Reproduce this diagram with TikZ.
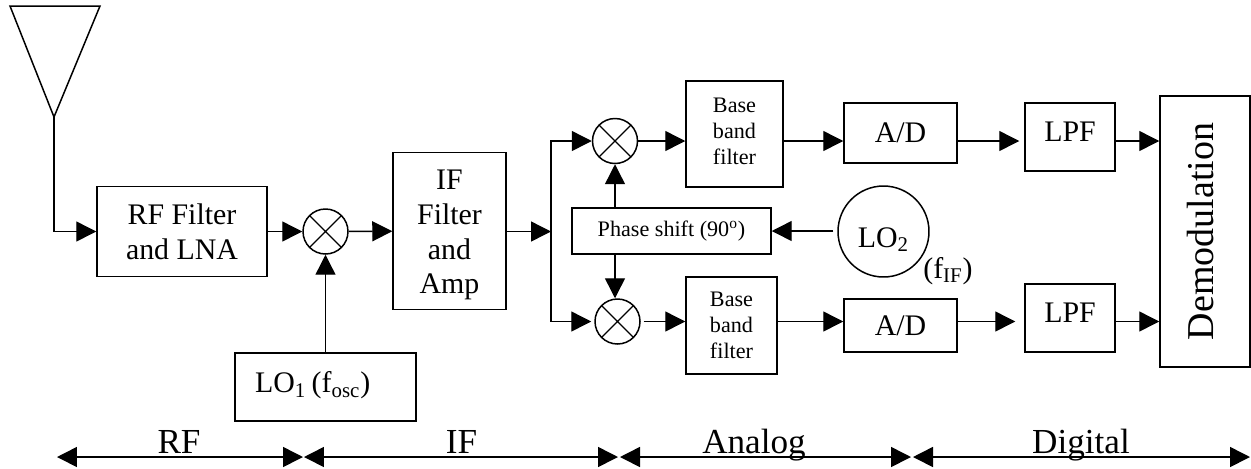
\documentclass[tikz,border=0pt]{standalone}
\usepackage{fontspec}
\setmainfont{Liberation Serif}
\usetikzlibrary{arrows.meta,calc}
\tikzset{
  box/.style={draw,line width=0.85pt,align=center,inner sep=0pt,font=\fontsize{17}{19.9}\selectfont},
  small/.style={font=\fontsize{12.6}{14.8}\selectfont},
  mixer/.style={draw,circle,line width=0.85pt,minimum size=0.9cm,inner sep=0pt,
    path picture={\draw[line width=0.75pt] (path picture bounding box.north west)--(path picture bounding box.south east)
      (path picture bounding box.north east)--(path picture bounding box.south west);}},
  arr/.style={-{Triangle[length=0.4cm,width=0.4cm]},line width=0.8pt},
  span/.style={{Triangle[length=0.4cm,width=0.4cm]}-{Triangle[length=0.4cm,width=0.4cm]},line width=0.9pt},
  lbl/.style={anchor=base,inner sep=0pt,font=\fontsize{20}{24}\selectfont},
}

\begin{document}
\begin{tikzpicture}[x=0.02cm,y=-0.02cm,line join=miter]
\useasboundingbox (0,0) rectangle (1251,468);
\coordinate (antl) at (10,6); \coordinate (antr) at (100,6); \coordinate (ant) at (54,117);
\coordinate (split) at (551,231.5);
\draw[line width=0.85pt] (antl)--(antr)--(ant)--cycle;
% blocks
\node[box,minimum width=3.4cm,minimum height=1.8cm] (rf) at (182,231.5) {RF Filter\\and LNA};
\node[mixer] (mixrf) at (325.5,231.5) {};
\node[box,text height=2.64cm,text depth=0.12cm,minimum width=2.26cm,minimum height=3.14cm] (ifamp) at (449.5,231) {IF\\Filter\\and\\Amp};
\node[box,text depth=0.2cm,minimum width=3.62cm,minimum height=1.36cm,text width=2.82cm,align=left] (loa) at (325.5,387) {LO\textsubscript{1}\kern-2.5pt{} (f\textsubscript{osc})};
\node[mixer] (mixa) at (615,141) {};
\node[mixer] (mixb) at (617.5,321.5) {};
\node[box,small,minimum width=3.98cm,minimum height=0.92cm] (phase) at (671.5,231) {Phase shift (90\textsuperscript{o})};
\node[box,circle,text height=0.62cm,text depth=0pt,minimum size=1.82cm] (lob) at (883.5,231.5) {LO\textsubscript{2}};
\node[lbl,font=\fontsize{17}{19.9}\selectfont] (fif) at (948,278) {(f\textsubscript{IF})};
\node[box,small,text depth=0.12cm,minimum width=1.94cm,minimum height=2.12cm] (bba) at (734.5,134) {Base\\band\\filter};
\node[box,small,minimum width=1.82cm,minimum height=1.94cm] (bbb) at (731.5,325.5) {Base\\band\\filter};
\node[box,minimum width=2.26cm,minimum height=1.2cm] (ada) at (900.5,133) {A/D};
\node[box,minimum width=2.26cm,minimum height=1.06cm] (adb) at (900.5,325.5) {A/D};
\node[box,text depth=0.2cm,minimum width=1.8cm,minimum height=1.36cm] (lpfa) at (1070,137) {LPF};
\node[box,text depth=0.2cm,minimum width=1.8cm,minimum height=1.36cm] (lpfb) at (1070,318) {LPF};
\node[box,rotate=90,text depth=0.2cm,font=\fontsize{21.6}{24}\selectfont,minimum width=5.42cm,minimum height=1.8cm] (demod) at (1205,231.5) {Demodulation};
% connectors
\draw[arr] (ant) |- (rf);
\draw[arr] (rf) -- (mixrf);
\draw[arr] (loa) -- (mixrf);
\draw[arr] (mixrf) -- (ifamp);
\draw[arr] (ifamp.east |- split) -- (split);
\draw[arr] (split) |- (mixa);
\draw[arr,shorten >=0.06cm] (split) |- (mixb);
\draw[arr] (mixa) -- (mixa -| bba.west);
\draw[arr] (bba.east |- mixa) -- (mixa -| ada.west);
\draw[arr,shorten >=0.1cm] (ada.east |- mixa) -- (mixa -| lpfa.west);
\draw[arr] (lpfa.east |- mixa) -- (mixa -| demod.north);
\draw[arr,shorten <=0.06cm] (mixb) -- (mixb -| bbb.west);
\draw[arr] (bbb.east |- mixb) -- (mixb -| adb.west);
\draw[arr,shorten >=0.18cm] (adb.east |- mixb) -- (mixb -| lpfb.west);
\draw[arr] (lpfb.east |- mixb) -- (mixb -| demod.north);
\draw[arr] (mixa |- phase.north) -- (mixa);
\draw[arr] (mixa |- phase.south) -- (mixa |- mixb.north);
\draw[arr,shorten <=0.08cm] (lob.west |- phase) -- (phase);
% bands along the bottom
\coordinate (sa) at (57,457); \coordinate (sb) at (303,457);
\coordinate (sc) at (304,457); \coordinate (sd) at (618,457);
\coordinate (se) at (620,457); \coordinate (sf) at (911,457);
\coordinate (sg) at (913,457); \coordinate (sh) at (1250,457);
\draw[span] (sa)--(sb);
\draw[span] (sc)--(sd);
\draw[span] (se)--(sf);
\draw[span] (sg)--(sh);
\node[lbl] (lrf) at (179,453) {RF};
\node[lbl] (lif) at (461.5,453) {IF};
\node[lbl] (lan) at (754,453) {Analog};
\node[lbl] (ldi) at (1081,453) {Digital};
\end{tikzpicture}
\end{document}
